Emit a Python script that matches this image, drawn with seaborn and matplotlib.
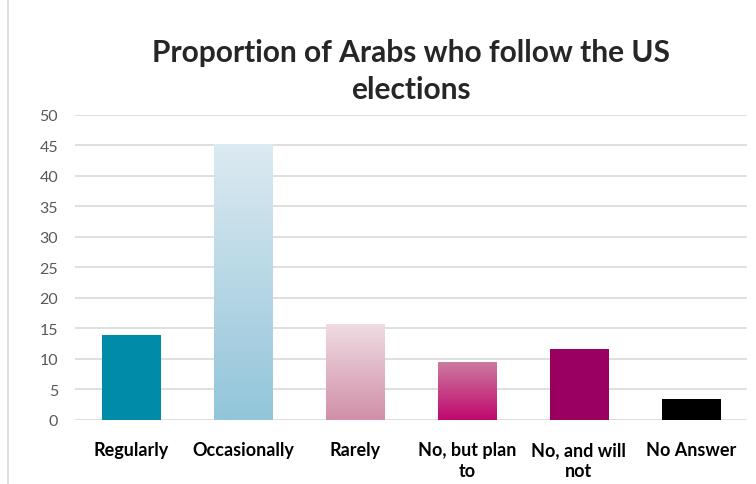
import numpy as np
import pandas as pd
import matplotlib
matplotlib.use('Agg')
import matplotlib.pyplot as plt
import seaborn as sns
from matplotlib.colors import LinearSegmentedColormap
from matplotlib.lines import Line2D

# Data
categories = ['Regularly', 'Occasionally', 'Rarely', 'No, but plan\nto', 'No, and will\nnot', 'No Answer']
values = [14, 45.2, 15.8, 9.5, 11.6, 3.4]
# (top colour, bottom colour) for each bar
bar_colors = [('#008BA8', '#008BA8'),
              ('#DCEAF1', '#92C5DA'),
              ('#F0DCE3', '#D08FA8'),
              ('#CB7BA1', '#C0086E'),
              ('#990060', '#990060'),
              ('#000000', '#000000')]

data = pd.DataFrame({'category': categories, 'value': values})

sns.set_style('white')
plt.rcParams['font.family'] = ['Lato', 'DejaVu Sans']

fig = plt.figure(figsize=(7.56, 4.85), dpi=100)
ax = fig.add_axes([0.099, 0.132, 0.889, 0.629])

sns.barplot(x='category', y='value', data=data, color='#008BA8', width=0.52,
            ax=ax, zorder=2)

# gradient fill for each bar
for patch, (top, bottom) in zip(ax.patches, bar_colors):
    x0, y0 = patch.get_x(), patch.get_y()
    w, h = patch.get_width(), patch.get_height()
    cmap = LinearSegmentedColormap.from_list('g', [bottom, top])
    grad = np.linspace(0, 1, 256).reshape(-1, 1)
    patch.set_facecolor('none')
    patch.set_edgecolor('none')
    im = ax.imshow(grad, cmap=cmap, origin='lower', aspect='auto',
                   extent=[x0, x0 + w, y0, y0 + h], zorder=2)
    im.set_clip_path(patch)

ax.set_xlim(-0.5, 5.5)
ax.set_ylim(0, 50)
ax.set_yticks(range(0, 51, 5))
ax.yaxis.grid(True, color='#D9D9D9', linewidth=1.2, zorder=0)
ax.set_axisbelow(True)
for s in ['top', 'right', 'left', 'bottom']:
    ax.spines[s].set_visible(False)
ax.set_xlabel('')
ax.set_ylabel('')
ax.tick_params(axis='y', labelsize=11.5, labelcolor='#595959', length=0, pad=12)
ax.tick_params(axis='x', labelsize=13, length=0, pad=15)
for lbl in ax.get_xticklabels():
    lbl.set_fontweight('bold')
    lbl.set_color('black')
    lbl.set_linespacing(1.3)

fig.text(0.543, 0.853, 'Proportion of Arabs who follow the US\nelections', ha='center',
         va='center', fontsize=21.5, fontweight='bold', linespacing=1.38)

fig.add_artist(Line2D([8 / 756, 8 / 756], [0, 1], color='#D9D9D9', linewidth=1.2))

fig.savefig('out.png', dpi=100)
